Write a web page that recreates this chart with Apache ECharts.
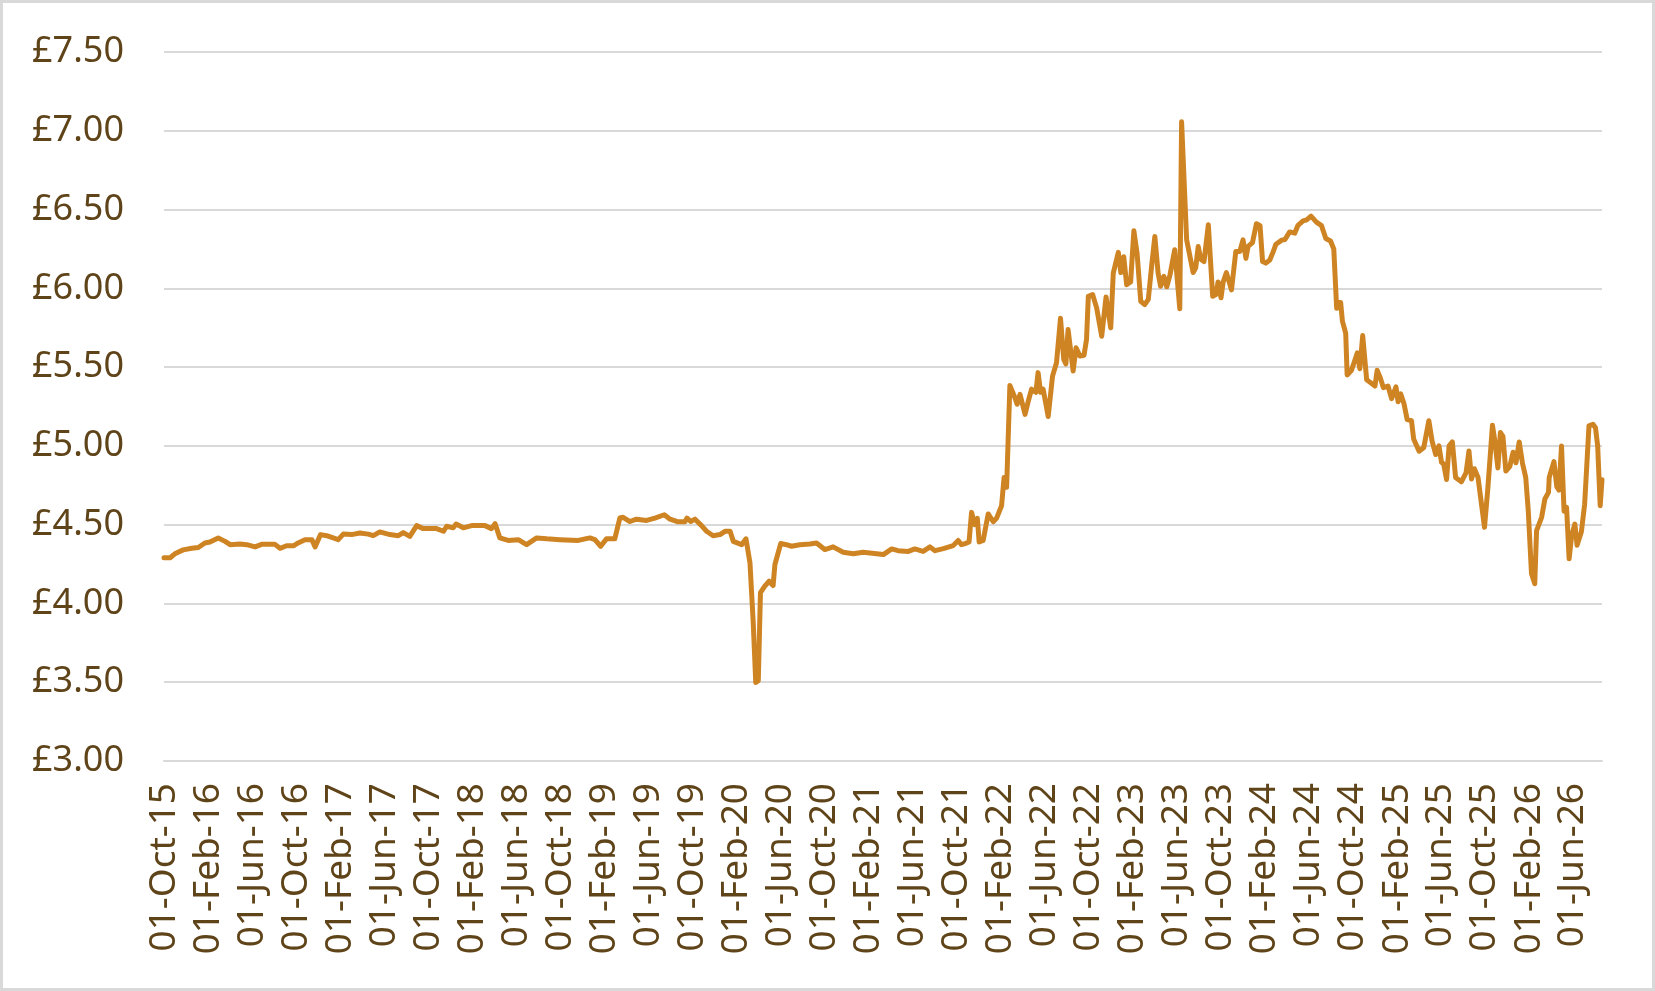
<!DOCTYPE html>
<html>
<head>
<meta charset="utf-8">
<script src="https://cdn.jsdelivr.net/npm/echarts@6/dist/echarts.min.js"></script>
<style>
  html, body { margin: 0; padding: 0; background: #fff; }
  #chart { width: 1655px; height: 991px; }
  #frame { position: absolute; left: 0; top: 0; width: 1655px; height: 991px;
           box-sizing: border-box; border: 3px solid #d9d9d9; pointer-events: none; }
</style>
</head>
<body>
<div id="chart"></div>
<div id="frame"></div>
<script>
// price points (date, £ value)
const dates = [
  '2015-10-01','2015-10-18','2015-10-31','2015-11-23','2015-12-17',
  '2016-01-04','2016-01-22','2016-02-05','2016-02-28','2016-03-18','2016-04-01','2016-04-28','2016-05-17','2016-06-09','2016-06-27','2016-08-03','2016-08-17','2016-09-04','2016-09-23','2016-10-06','2016-10-25','2016-11-13','2016-11-22','2016-12-07','2016-12-24',
  '2017-01-25','2017-02-08','2017-03-03','2017-03-26','2017-04-18','2017-05-02','2017-05-20','2017-06-17','2017-07-10','2017-07-24','2017-08-11','2017-08-30','2017-09-17','2017-10-24','2017-11-12','2017-11-21','2017-12-09','2017-12-17',
  '2018-01-06','2018-01-29','2018-03-07','2018-03-25','2018-04-04','2018-04-17','2018-05-10','2018-06-07','2018-06-30','2018-07-28','2018-08-25','2018-09-30','2018-11-20','2018-12-22',
  '2019-01-05','2019-01-21','2019-02-06','2019-03-01','2019-03-15','2019-03-24','2019-04-12','2019-04-30','2019-05-28','2019-06-20','2019-07-16','2019-08-01','2019-08-23','2019-09-11','2019-09-17','2019-09-27','2019-10-09','2019-10-27','2019-11-10','2019-11-28','2019-12-17','2019-12-31',
  '2020-01-14','2020-01-23','2020-02-15','2020-02-19','2020-02-27','2020-03-09','2020-03-18','2020-03-25','2020-04-01','2020-04-07','2020-04-19','2020-05-01','2020-05-12','2020-05-17','2020-06-02','2020-06-18','2020-07-02','2020-07-25','2020-08-22','2020-09-09','2020-10-02','2020-10-25','2020-11-22','2020-12-20',
  '2021-01-16','2021-02-04','2021-03-13','2021-04-05','2021-04-23','2021-05-21','2021-06-08','2021-07-01','2021-07-20','2021-08-03','2021-08-26','2021-09-22','2021-10-06','2021-10-15','2021-10-25','2021-11-05','2021-11-12','2021-11-21','2021-11-28','2021-12-03','2021-12-14','2021-12-28',
  '2022-01-11','2022-01-20','2022-02-03','2022-02-10','2022-02-17','2022-02-26','2022-03-12','2022-03-18','2022-03-26','2022-04-09','2022-04-18','2022-04-27','2022-05-09','2022-05-15','2022-05-22','2022-05-29','2022-06-12','2022-06-24','2022-07-05','2022-07-16','2022-07-25','2022-07-31','2022-08-06','2022-08-20','2022-08-28','2022-09-08','2022-09-19','2022-09-26','2022-10-01','2022-10-13','2022-10-24','2022-11-07','2022-11-19','2022-12-02','2022-12-09','2022-12-23','2022-12-30',
  '2023-01-07','2023-01-15','2023-01-26','2023-02-04','2023-02-13','2023-02-23','2023-03-06','2023-03-16','2023-03-25','2023-04-03','2023-04-12','2023-04-19','2023-04-28','2023-05-06','2023-05-15','2023-05-28','2023-06-11','2023-06-16','2023-06-30','2023-07-18','2023-07-25','2023-08-01','2023-08-08','2023-08-17','2023-08-29','2023-09-10','2023-09-19','2023-09-25','2023-10-03','2023-10-09','2023-10-18','2023-11-01','2023-11-13','2023-11-24','2023-12-03','2023-12-11','2023-12-17','2023-12-29',
  '2024-01-09','2024-01-19','2024-01-26','2024-02-04','2024-02-15','2024-02-24','2024-03-03','2024-03-19','2024-03-28','2024-04-10','2024-04-24','2024-05-03','2024-05-17','2024-05-27','2024-06-08','2024-06-23','2024-07-07','2024-07-19','2024-08-01','2024-08-10','2024-08-18','2024-08-22','2024-08-29','2024-09-03','2024-09-12','2024-09-16','2024-09-28','2024-10-14','2024-10-21','2024-10-29','2024-11-09','2024-11-22','2024-12-02','2024-12-08','2024-12-17','2024-12-25',
  '2025-01-07','2025-01-17','2025-01-29','2025-02-04','2025-02-11','2025-02-20','2025-03-01','2025-03-13','2025-03-19','2025-04-03','2025-04-16','2025-04-30','2025-05-09','2025-05-19','2025-05-28','2025-06-04','2025-06-10','2025-06-18','2025-06-25','2025-07-04','2025-07-13','2025-07-29','2025-08-11','2025-08-19','2025-08-26','2025-09-03','2025-09-13','2025-10-01','2025-10-10','2025-10-23','2025-10-29','2025-11-07','2025-11-14','2025-11-21','2025-11-29','2025-12-10','2025-12-19','2025-12-27',
  '2026-01-05','2026-01-14','2026-01-23','2026-01-30','2026-02-03','2026-02-08','2026-02-17','2026-02-22','2026-03-08','2026-03-17','2026-03-27','2026-03-29','2026-04-11','2026-04-19','2026-04-25','2026-05-02','2026-05-09','2026-05-16','2026-05-23','2026-05-30','2026-06-08','2026-06-14','2026-06-26','2026-07-05','2026-07-17','2026-07-28','2026-08-04','2026-08-10','2026-08-17','2026-08-22'
]
const prices = [
  4.29,4.29,4.315,4.34,4.35,
  4.355,4.384,4.39,4.416,4.394,4.373,4.377,4.373,4.359,4.375,4.375,4.35,4.366,4.366,4.384,4.405,4.405,4.359,4.437,4.43,
  4.405,4.44,4.437,4.447,4.44,4.43,4.454,4.437,4.43,4.45,4.426,4.494,4.475,4.475,4.458,4.49,4.48,4.504,
  4.48,4.494,4.494,4.475,4.506,4.416,4.40,4.405,4.373,4.416,4.41,4.405,4.40,4.416,
  4.405,4.363,4.41,4.41,4.542,4.547,4.52,4.535,4.527,4.542,4.563,4.535,4.518,4.518,4.542,4.52,4.535,4.494,4.458,4.43,4.437,4.458,
  4.458,4.394,4.373,4.363,4.41,4.257,3.878,3.498,3.51,4.068,4.11,4.141,4.114,4.247,4.38,4.373,4.363,4.373,4.377,4.384,4.342,4.359,4.325,4.316,
  4.325,4.32,4.31,4.346,4.335,4.33,4.346,4.33,4.359,4.335,4.348,4.367,4.40,4.373,4.38,4.39,4.578,4.50,4.54,4.39,4.40,4.568,
  4.519,4.54,4.62,4.80,4.737,5.384,5.306,5.264,5.327,5.20,5.285,5.36,5.34,5.465,5.34,5.36,5.186,5.443,5.528,5.81,5.549,5.52,5.739,5.475,5.623,5.57,5.575,5.675,5.949,5.96,5.876,5.696,5.945,5.749,6.097,6.228,6.10,
  6.20,6.023,6.04,6.365,6.22,5.918,5.897,5.93,6.139,6.329,6.097,6.013,6.076,6.01,6.086,6.245,5.87,7.057,6.308,6.10,6.13,6.266,6.185,6.17,6.403,5.949,5.96,6.04,5.94,6.04,6.10,5.99,6.234,6.234,6.308,6.19,6.266,6.29,
  6.41,6.397,6.17,6.16,6.18,6.23,6.28,6.306,6.31,6.358,6.35,6.40,6.428,6.435,6.458,6.42,6.398,6.316,6.30,6.25,5.873,5.91,5.91,5.79,5.715,5.45,5.48,5.59,5.49,5.70,5.42,5.398,5.38,5.48,5.43,5.37,
  5.38,5.30,5.375,5.28,5.33,5.27,5.167,5.16,5.044,4.966,4.99,5.16,5.03,4.945,5.0,4.896,4.885,4.787,5.0,5.025,4.80,4.772,4.83,4.968,4.79,4.855,4.80,4.483,4.725,5.131,5.04,4.86,5.085,5.06,4.84,4.87,4.96,4.893,
  5.025,4.89,4.80,4.59,4.585,4.188,4.125,4.462,4.547,4.663,4.705,4.80,4.90,4.74,4.72,5.0,4.585,4.61,4.283,4.43,4.504,4.37,4.455,4.63,5.127,5.137,5.115,5.0,4.62,4.785
]
const firstDay = '2015-10-01'
const lastDay = '2026-08-22'
const labelMonths = ['02', '06', '10']   // a label every 4 months
const yTicks = { min: 3, max: 7.5, step: 0.5 }
const monthNames = ['Jan','Feb','Mar','Apr','May','Jun','Jul','Aug','Sep','Oct','Nov','Dec']

// one category per day, like Excel's date axis
let days = []
for (let t = Date.parse(firstDay); t <= Date.parse(lastDay); t += 86400000) {
  days.push(new Date(t).toISOString().slice(0, 10))
}

const textColor = '#5f4419'
const fontFamily = '"Noto Sans", "Liberation Sans", sans-serif'

let option = {
  animation: false,
  backgroundColor: '#fff',
  grid: { left: 164, right: 53, top: 52, bottom: 230, outerBoundsMode: 'none' },
  xAxis: {
    type: 'category',
    data: days,
    boundaryGap: false,
    axisLine: { lineStyle: { color: '#d9d9d9', width: 2 } },
    axisTick: { show: false },
    splitLine: { show: false },
    axisLabel: {
      rotate: 90,
      margin: 22,
      color: textColor,
      fontFamily: fontFamily,
      fontSize: 37,
      interval: (idx, val) => val.slice(8) === '01' && labelMonths.includes(val.slice(5, 7)),
      formatter: (val) => val.slice(8, 10) + '-' + monthNames[+val.slice(5, 7) - 1] + '-' + val.slice(2, 4)
    }
  },
  yAxis: {
    type: 'value',
    min: yTicks.min,
    max: yTicks.max,
    interval: yTicks.step,
    axisLine: { show: false },
    axisTick: { show: false },
    splitLine: { lineStyle: { color: '#d9d9d9', width: 2 } },
    axisLabel: {
      margin: 40,
      color: textColor,
      fontFamily: fontFamily,
      fontSize: 36,
      formatter: (v) => '£' + v.toFixed(2)
    }
  },
  series: [{
    type: 'line',
    data: dates.map((d, i) => [d, prices[i]]),
    showSymbol: false,
    lineStyle: { color: '#cf8424', width: 5, join: 'round', cap: 'round' }
  }]
}

let chart = echarts.init(document.getElementById('chart'))
chart.setOption(option)
</script>
</body>
</html>
